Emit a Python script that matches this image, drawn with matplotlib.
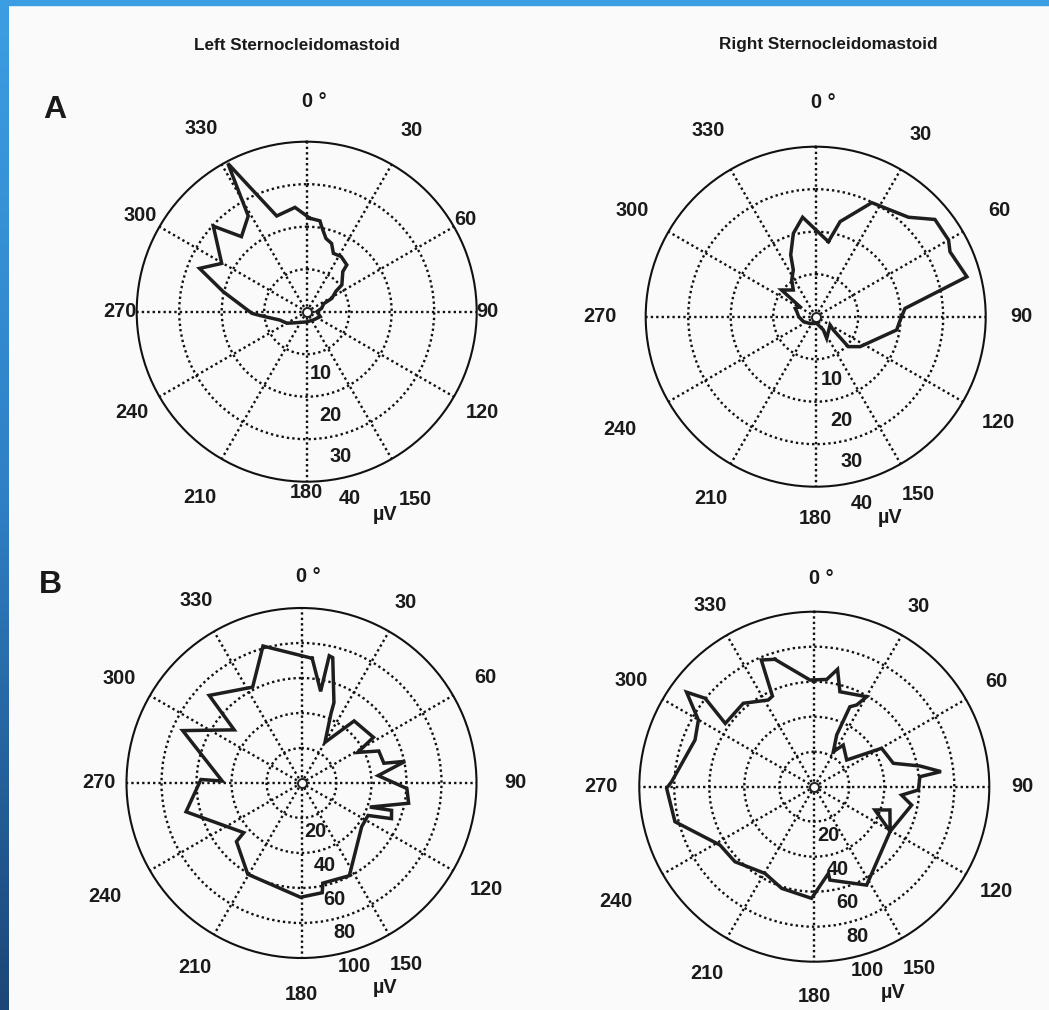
import numpy as np
import matplotlib
matplotlib.use("Agg")
import matplotlib.pyplot as plt
from matplotlib.colors import LinearSegmentedColormap
from matplotlib.patches import Rectangle

plt.rcParams['font.family'] = ['Liberation Sans', 'DejaVu Sans']

# ---------------- data ----------------
angle_ticks = [0, 30, 60, 90, 120, 150, 180, 210, 240, 270, 300, 330]
angle_tick_labels = ['0 °', '30', '60', '90', '120', '150', '180', '210', '240', '270', '300', '330']

# Panel A, left sternocleidomastoid (µV, polar angle in degrees)
a_left_theta = [2, 8.3, 10, 14.8, 20, 24.6, 32, 40.6, 42, 52.7, 55, 62, 65, 77, 90, 110, 141,
                180, 230, 240, 252.6, 265.3, 268.3, 283.5, 292, 299.6, 312.5, 319, 328.6, 332,
                342.6, 353.6]
a_left_r = [22.0, 21.6, 20.3, 17.8, 17.1, 15.1, 15.3, 14.5, 12.7, 10.4, 8.4, 6.7, 4.4, 3.6, 2.4,
            3.4, 2.5, 2.4, 4.1, 5.4, 6.6, 11.0, 12.9, 20.2, 27.2, 23.0, 29.8, 23.4, 26.4, 39.5,
            23.6, 24.7]

# Panel A, right sternocleidomastoid
a_right_theta = [9.6, 14.4, 26.2, 43, 50.8, 60, 64.2, 75.2, 84.7, 92.3, 99.3, 124, 132.6, 127,
                 120, 153, 150, 171, 220, 248, 270, 285, 292, 302.5, 308, 320, 326.8, 334.4,
                 338, 345, 352.5]
a_right_r = [17.9, 23.1, 29.9, 32.0, 36.2, 36.1, 35.1, 36.8, 21.1, 19.9, 19.3, 12.6, 10.4, 5.2,
             3.9, 5.7, 3.6, 1.6, 2.1, 3.1, 4.0, 4.6, 5.2, 4.4, 10.2, 8.2, 10.3, 12.2, 15.7,
             20.3, 23.6]

# Panel B, left sternocleidomastoid
b_left_theta = [4.9, 11.8, 12.3, 14, 22, 23, 30, 40.3, 57.6, 61.4, 67.5, 76.5, 78.2, 84.5, 93,
                100.7, 109.4, 106.9, 111.6, 116, 126, 152.7, 168, 169.3, 180.5, 210.5, 228,
                229.3, 256, 272, 271.4, 293.8, 308.3, 313.5, 333, 344.3]
b_left_r = [71.5, 53.5, 74.4, 73.8, 49.5, 43.1, 26.8, 46.5, 48.7, 36.5, 47.8, 48.4, 60.5, 44,
            60.3, 62.3, 41.4, 53.8, 55.3, 42.3, 42.5, 59.6, 58.5, 63.8, 65.3, 60.5, 50, 43.5,
            68, 57.5, 45.3, 74.2, 49, 72.7, 61.5, 81.3]

# Panel B, right sternocleidomastoid
b_right_theta = [342.8, 357.7, 6.6, 11.2, 15.1, 30.2, 27.4, 24, 23.4, 28.5, 34.8, 50.5, 60.3,
                 73.5, 78.9, 83.2, 84.6, 91.8, 95.5, 100.7, 120.5, 107.1, 111, 120.5, 152,
                 170.5, 170.8, 181.4, 197.8, 209.6, 226.6, 238.3, 255.9, 269.4, 272, 291.4,
                 299.9, 306.5, 309, 305.4, 319.6, 332, 335.2, 337.3]
b_right_r = [76.2, 61, 61.7, 68.4, 56.2, 59.5, 52.6, 50, 32.2, 22.8, 29, 24, 44.3, 47.1, 61.5,
             72.9, 60.6, 59.5, 50.1, 56.6, 50.3, 45.2, 37.1, 50.3, 63.7, 54.1, 50.2, 63.8, 61,
             57, 62.4, 63.4, 82.1, 84.4, 81.6, 73.2, 76.4, 90.8, 80.3, 62.4, 62.6, 56.1, 57,
             78.5]

a_rings = [10, 20, 30, 40]
b_rings = [20, 40, 60, 80, 100]

titles = ['Left Sternocleidomastoid', 'Right Sternocleidomastoid']
panel_letters = ['A', 'B']
unit = 'µV'

# ---------------- layout ----------------
W, H = 1049, 1010
BG = '#fafafa'
fig = plt.figure(figsize=(W / 100, H / 100), dpi=100, facecolor=BG)

FS = 14.3
TXT = '#1a1a1a'
LINE = '#1e1e1e'


def add_polar(cx, cy, R):
    ax = fig.add_axes([(cx - R) / W, 1 - (cy + R) / H, 2 * R / W, 2 * R / H], projection='polar')
    ax.set_facecolor('none')
    ax.set_theta_zero_location('N')
    ax.set_theta_direction(-1)
    return ax


def draw_panel(ax, theta, r, rings, lab_factors, rlab_angle, rlab_off, unit_pos):
    rmax = rings[-1]
    ax.set_ylim(0, rmax)
    ax.set_rgrids(rings[:-1], labels=[''] * (len(rings) - 1))
    ax.set_thetagrids(angle_ticks, labels=[''] * len(angle_ticks))
    ax.grid(True, color='#111111', linestyle=(0, (1.0, 1.3)), linewidth=1.7)
    ax.spines['polar'].set_linewidth(1.5)
    ax.spines['polar'].set_color('#111111')
    ax.tick_params(length=0, pad=0)
    th = np.deg2rad(np.array(theta + theta[:1]))
    rr = np.array(r + r[:1])
    ax.plot(th, rr, color=LINE, lw=2.5, solid_joinstyle='miter', zorder=5)
    ax.plot([0], [0], 'o', mfc=BG, mec='#222222', ms=6.5, mew=1.4, zorder=4)
    for a, lab, f in zip(angle_ticks, angle_tick_labels, lab_factors):
        ax.text(np.deg2rad(a + (2 if a == 0 else 0)), rmax * f, lab, ha='center', va='center',
                fontsize=FS, fontweight='bold', color=TXT, clip_on=False)
    for v in rings:
        ax.text(np.deg2rad(rlab_angle), v + rlab_off, str(v), ha='center', va='center',
                fontsize=FS, fontweight='bold', color=TXT, clip_on=False, zorder=6)
    ax.text(unit_pos[0], unit_pos[1], unit, transform=ax.transAxes, ha='center', va='center',
            fontsize=FS, fontweight='bold', color=TXT)


f_al = [1.24, 1.23, 1.08, 1.065, 1.19, 1.275, 1.065, 1.26, 1.19, 1.10, 1.13, 1.245]
f_ar = [1.26, 1.235, 1.245, 1.21, 1.24, 1.205, 1.19, 1.235, 1.33, 1.27, 1.245, 1.265]
f_bl = [1.18, 1.19, 1.21, 1.22, 1.22, 1.20, 1.21, 1.22, 1.30, 1.16, 1.20, 1.205]
f_br = [1.19, 1.19, 1.20, 1.19, 1.20, 1.20, 1.20, 1.23, 1.31, 1.22, 1.21, 1.195]

ax1 = add_polar(306.7, 311.7, 170)
draw_panel(ax1, a_left_theta, a_left_r, a_rings, f_al, 167, 5.0, (0.73, -0.095))
ax2 = add_polar(815.7, 316.7, 170)
draw_panel(ax2, a_right_theta, a_right_r, a_rings, f_ar, 166, 5.2, (0.72, -0.09))
ax3 = add_polar(301.5, 783.0, 175)
draw_panel(ax3, b_left_theta, b_left_r, b_rings, f_bl, 164, 9.0, (0.74, -0.083))
ax4 = add_polar(814.3, 786.7, 175)
draw_panel(ax4, b_right_theta, b_right_r, b_rings, f_br, 164, 9.0, (0.726, -0.089))

# titles and panel letters
fig.text(297 / W, 1 - 45 / H, titles[0], ha='center', va='center', fontsize=12.3,
         fontweight='bold', color=TXT)
fig.text(828 / W, 1 - 45 / H, titles[1], ha='center', va='center', fontsize=12.3,
         fontweight='bold', color=TXT)
fig.text(55 / W, 1 - 110 / H, panel_letters[0], ha='center', va='center', fontsize=23,
         fontweight='bold', color=TXT)
fig.text(50 / W, 1 - 585 / H, panel_letters[1], ha='center', va='center', fontsize=23,
         fontweight='bold', color=TXT)

# blue slide border strips
cmap = LinearSegmentedColormap.from_list('edge', ['#3c9ee2', '#2f7fc4', '#1c4677'])
sax = fig.add_axes([0, 0, 9 / W, 1])
sax.imshow(np.linspace(0, 1, 256).reshape(-1, 1), aspect='auto', cmap=cmap)
sax.axis('off')
fig.patches.append(Rectangle((0, 1 - 5 / H), 1, 5 / H, transform=fig.transFigure,
                             color='#3c9ee2', zorder=10))

fig.savefig('out.png', dpi=100, facecolor=BG)
